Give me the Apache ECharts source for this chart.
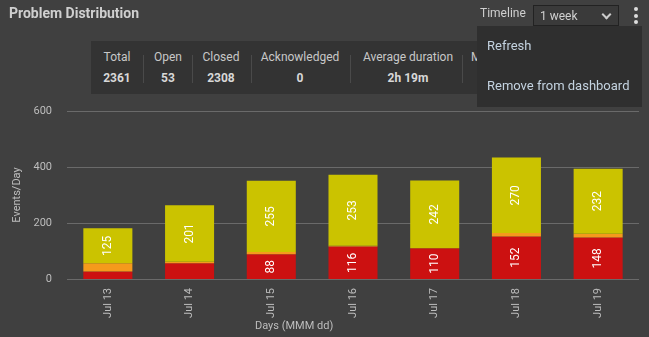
<!DOCTYPE html>
<html><head><meta charset="utf-8">
<script src="https://cdn.jsdelivr.net/npm/echarts@6/dist/echarts.min.js"></script>
<style>
html,body{margin:0;padding:0;background:#404040;width:649px;height:337px;overflow:hidden;font-family:Roboto,"Noto Sans",sans-serif;}
#chart{position:absolute;left:0;top:0;width:649px;height:337px;}
.title{position:absolute;left:9px;top:5px;font-size:14px;font-weight:bold;color:#cfcfcf;}
.summary{position:absolute;left:91px;top:41px;width:420px;height:53px;background:#333333;}
.item{position:absolute;top:9px;text-align:center;color:#c8c8c8;font-size:12px;}
.item b{display:block;margin-top:7px;font-size:12px;color:#d8d8d8;}
.div{position:absolute;top:14px;width:1px;height:28px;background:#4a4a4a;}
.tl{position:absolute;left:480px;top:6px;font-size:12px;color:#cfcfcf;}
.sel{position:absolute;left:533px;top:5px;width:84px;height:19px;border:1px solid #222;background:#3a3a3a;color:#d0d0d0;font-size:12px;line-height:19px;box-sizing:content-box;}
.sel span{position:absolute;left:6px;top:1px;}
.sel i{position:absolute;right:8px;top:5px;width:5px;height:5px;border-right:2px solid #ccc;border-bottom:2px solid #ccc;transform:rotate(45deg);}
.dots{position:absolute;left:634px;top:7px;}
.dots div{width:4px;height:4px;border-radius:2px;background:#ddd;margin-bottom:2.5px;}
.menu{position:absolute;left:477px;top:26px;width:165px;height:81px;background:#2f2f2f;color:#c4d3e0;font-size:13px;}
.menu div{position:absolute;left:10px;}
</style></head>
<body>
<div id="chart"></div>
<div class="title">Problem Distribution</div>
<div class="summary">
  <div class="item" style="left:6px;width:40px">Total<b>2361</b></div>
  <div class="div" style="left:52px"></div>
  <div class="item" style="left:57px;width:40px">Open<b>53</b></div>
  <div class="div" style="left:101px"></div>
  <div class="item" style="left:104px;width:52px">Closed<b>2308</b></div>
  <div class="div" style="left:160px"></div>
  <div class="item" style="left:163px;width:92px">Acknowledged<b>0</b></div>
  <div class="div" style="left:259px"></div>
  <div class="item" style="left:263px;width:108px">Average duration<b>2h 19m</b></div>
  <div class="div" style="left:371px"></div>
  <div class="item" style="left:380px;width:40px;text-align:left">Max<b></b></div>
</div>
<div class="tl">Timeline</div>
<div class="sel"><span>1 week</span><i></i></div>
<div class="dots"><div></div><div></div><div></div></div>
<div class="menu"><div style="top:12px">Refresh</div><div style="top:52px">Remove from dashboard</div></div>
<script>
const categories = ['Jul 13','Jul 14','Jul 15','Jul 16','Jul 17','Jul 18','Jul 19'];
const redValues = [27, 56, 88, 116, 110, 152, 148];
const orangeValues = [29, 6, 8, 3, 0, 12, 14];
const yellowValues = [125, 201, 255, 253, 242, 270, 232];
const yTicks = {min: 0, max: 600, interval: 200};

const chart = echarts.init(document.getElementById('chart'), null, {renderer: 'canvas'});
const lbl = (minShow) => ({
  show: true, position: 'inside', rotate: 90, color: '#ffffff', fontSize: 12,
  fontFamily: 'Roboto, sans-serif',
  formatter: p => p.value >= minShow ? String(p.value) : ''
});
chart.setOption({
  backgroundColor: 'transparent',
  animation: false,
  grid: {left: 67, right: 10, top: 111, bottom: 58},
  xAxis: {
    type: 'category', data: categories,
    axisLine: {show: false}, axisTick: {show: false},
    axisLabel: {rotate: 90, color: '#bdbdbd', fontSize: 11, margin: 9, fontFamily: 'Roboto, sans-serif'}
  },
  yAxis: {
    type: 'value', min: yTicks.min, max: yTicks.max, interval: yTicks.interval,
    name: 'Events/Day', nameLocation: 'middle', nameGap: 42, nameRotate: 90,
    nameTextStyle: {color: '#bdbdbd', fontSize: 11, fontFamily: 'Roboto, sans-serif'},
    axisLabel: {color: '#bdbdbd', fontSize: 11, margin: 15, fontFamily: 'Roboto, sans-serif'},
    splitLine: {lineStyle: {color: '#6a6a6a', width: 1}},
    axisLine: {show: false}, axisTick: {show: false}
  },
  graphic: [{type: 'text', left: 255, top: 321, style: {text: 'Days (MMM dd)', fill: '#bdbdbd', fontSize: 11, fontFamily: 'Roboto, sans-serif'}}],
  series: [
    {type: 'bar', stack: 's', data: redValues, barWidth: '60%', itemStyle: {color: '#cc1111'}, label: lbl(60)},
    {type: 'bar', stack: 's', data: orangeValues, itemStyle: {color: '#f59a1c'}, label: {show: false}},
    {type: 'bar', stack: 's', data: yellowValues, itemStyle: {color: '#cbc300'}, label: lbl(60)}
  ]
});
</script>
</body></html>
